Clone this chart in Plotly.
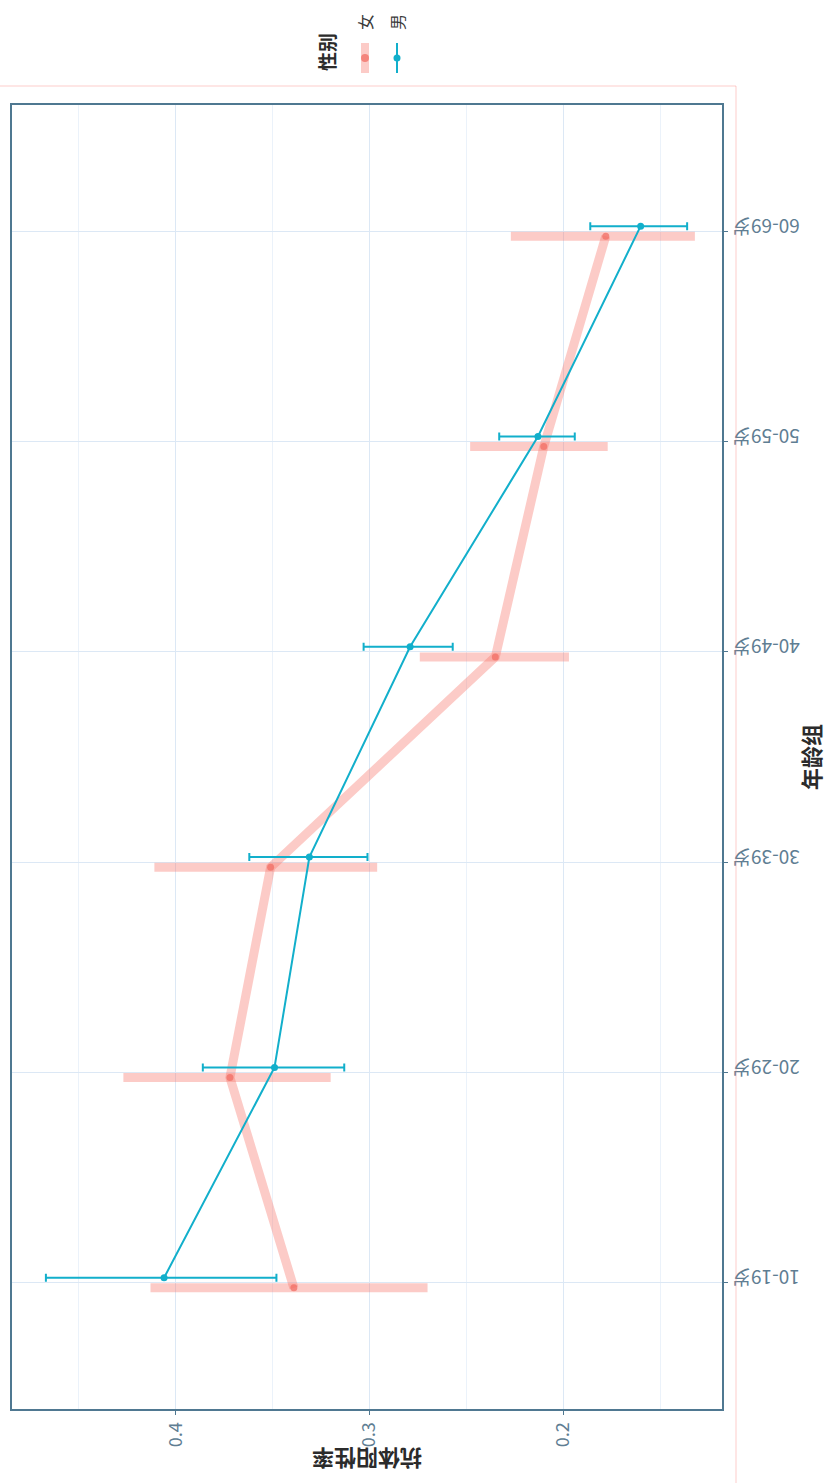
import plotly.graph_objects as go

# Age groups (bottom to top) and antibody positivity by sex
age_groups = ["10-19岁", "20-29岁", "30-39岁", "40-49岁", "50-59岁", "60-69岁"]

female_rate = [0.339, 0.372, 0.351, 0.235, 0.210, 0.178]
female_low = [0.270, 0.320, 0.296, 0.197, 0.177, 0.132]
female_high = [0.413, 0.427, 0.411, 0.274, 0.248, 0.227]

male_rate = [0.406, 0.349, 0.331, 0.279, 0.213, 0.160]
male_low = [0.348, 0.313, 0.301, 0.257, 0.194, 0.136]
male_high = [0.467, 0.386, 0.362, 0.303, 0.233, 0.186]

x_ticks = [0.2, 0.3, 0.4]
x_tick_text = ["0.2", "0.3", "0.4"]

W, H = 826, 1483
PANEL = dict(left=12, right=722, top=105, bottom=1409)

FEMALE = "rgba(248,118,109,0.38)"
FEMALE_PT = "rgba(242,110,100,0.75)"
MALE = "#12AFCB"
AXIS_COL = "#4F7891"
TICK_COL = "#5F7E93"
GRID_MAJ = "#DCE8F5"
GRID_MIN = "#EBF2FA"
FRAME = "rgba(248,118,109,0.18)"
FONT = "Noto Sans CJK SC"

dodge = 0.024
pos = list(range(len(age_groups)))


def px_x(p):
    return p / W


def px_y(p):
    return 1 - p / H


fig = go.Figure()

fig.add_trace(go.Scatter(
    x=female_rate,
    y=[p - dodge for p in pos],
    mode="lines+markers",
    name="女",
    line=dict(color=FEMALE, width=9),
    marker=dict(color=FEMALE_PT, size=7),
    error_x=dict(
        type="data", symmetric=False,
        array=[h - v for h, v in zip(female_high, female_rate)],
        arrayminus=[v - l for v, l in zip(female_rate, female_low)],
        color=FEMALE, thickness=9, width=0,
    ),
    showlegend=False,
))

fig.add_trace(go.Scatter(
    x=male_rate,
    y=[p + dodge for p in pos],
    mode="lines+markers",
    name="男",
    line=dict(color=MALE, width=2),
    marker=dict(color=MALE, size=7),
    error_x=dict(
        type="data", symmetric=False,
        array=[h - v for h, v in zip(male_high, male_rate)],
        arrayminus=[v - l for v, l in zip(male_rate, male_low)],
        color=MALE, thickness=2, width=4,
    ),
    showlegend=False,
))

fig.update_layout(
    width=W, height=H,
    margin=dict(l=0, r=0, t=0, b=0),
    paper_bgcolor="white",
    plot_bgcolor="white",
    font=dict(family=FONT, color=TICK_COL),
    xaxis=dict(
        domain=[px_x(PANEL["left"]), px_x(PANEL["right"])],
        range=[0.4845, 0.118],
        tickvals=x_ticks, ticktext=x_tick_text,
        tickangle=-90,
        tickfont=dict(size=18, color=TICK_COL),
        ticks="outside", ticklen=4, tickcolor=AXIS_COL,
        showgrid=True, gridcolor=GRID_MAJ, gridwidth=1.3,
        minor=dict(dtick=0.1, tick0=0.15, showgrid=True, gridcolor=GRID_MIN, gridwidth=1),
        showline=True, linecolor=AXIS_COL, linewidth=2, mirror=True,
        zeroline=False,
    ),
    yaxis=dict(
        domain=[px_y(PANEL["bottom"]), px_y(PANEL["top"])],
        range=[-0.6, len(age_groups) - 0.4],
        side="right",
        tickvals=pos, ticktext=age_groups,
        tickangle=180,
        ticklabelstandoff=68,
        tickfont=dict(size=19, color=TICK_COL),
        ticks="outside", ticklen=4, tickcolor=AXIS_COL,
        showgrid=True, gridcolor=GRID_MAJ, gridwidth=1.3,
        showline=True, linecolor=AXIS_COL, linewidth=2, mirror=True,
        zeroline=False,
    ),
)

annotations = [
    dict(text="<b>抗体阳性率</b>", x=px_x(367), y=px_y(1460), textangle=180,
         font=dict(size=22, color="#2B2B2B")),
    dict(text="<b>年龄组</b>", x=px_x(810), y=px_y(757), textangle=-90,
         font=dict(size=22, color="#2B2B2B")),
    dict(text="<b>性别</b>", x=px_x(327), y=px_y(52), textangle=-90,
         font=dict(size=19, color="#2B2B2B")),
    dict(text="女", x=px_x(365), y=px_y(22), textangle=-90,
         font=dict(size=16, color="#3A3A3A")),
    dict(text="男", x=px_x(397), y=px_y(22), textangle=-90,
         font=dict(size=16, color="#3A3A3A")),
]
for a in annotations:
    a.update(xref="paper", yref="paper", showarrow=False,
             xanchor="center", yanchor="middle")
fig.update_layout(annotations=annotations)

# Outer plot frame, then legend keys
shapes = [
    dict(type="line", xref="paper", yref="paper",
         x0=px_x(0), x1=px_x(736), y0=px_y(86), y1=px_y(86),
         line=dict(color=FRAME, width=2)),
    dict(type="line", xref="paper", yref="paper",
         x0=px_x(736), x1=px_x(736), y0=px_y(86), y1=px_y(H),
         line=dict(color=FRAME, width=2)),
]
for cx, col, lw, r in [(365, FEMALE, 8, 4), (397, MALE, 2, 3.5)]:
    shapes.append(dict(type="line", xref="paper", yref="paper",
                       x0=px_x(cx), x1=px_x(cx), y0=px_y(43), y1=px_y(73),
                       line=dict(color=col, width=lw)))
    shapes.append(dict(type="circle", xref="paper", yref="paper",
                       x0=px_x(cx - r), x1=px_x(cx + r), y0=px_y(58 - r), y1=px_y(58 + r),
                       fillcolor=FEMALE_PT if col == FEMALE else MALE, line=dict(width=0)))
fig.update_layout(shapes=shapes)

fig.write_html("out.html")
